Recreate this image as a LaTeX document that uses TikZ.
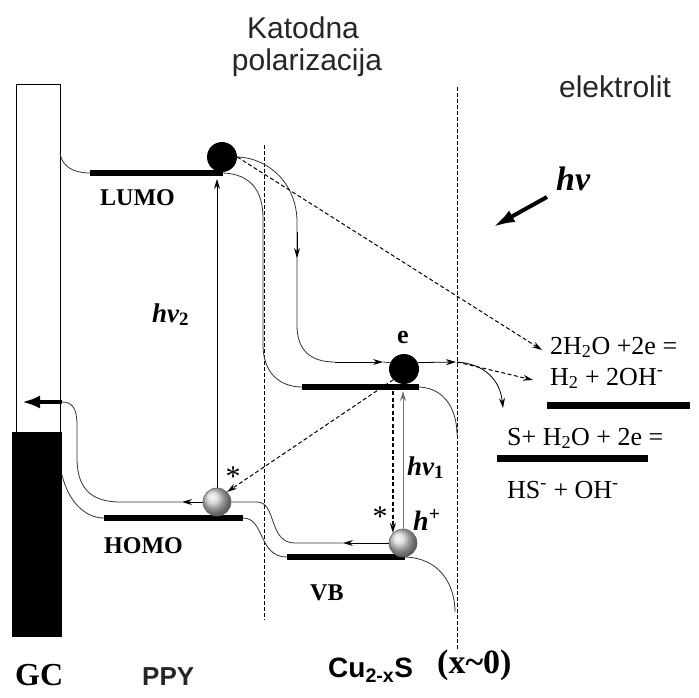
\documentclass[tikz,border=0pt]{standalone}
\usepackage{fontspec}
\setmainfont{Liberation Serif}
\setsansfont{Liberation Sans}
\usepackage{xcolor}
\definecolor{capgray}{HTML}{262626}
\definecolor{wiregray}{HTML}{333333}
\usetikzlibrary{arrows.meta,positioning,calc}

\begin{document}
\begin{tikzpicture}[
  x=1pt, y=-1pt,
  bar/.style={line width=6pt, black},
  wire/.style={line width=0.8pt, wiregray},
  sig/.style={-{Stealth[length=10pt,width=6pt]}, line width=0.8pt, black},
  dsig/.style={-{Stealth[length=10pt,width=6pt]}, line width=1pt, dash pattern=on 4pt off 2.5pt},
  bound/.style={line width=0.7pt, dash pattern=on 4pt off 2pt},
  fatarr/.style={-{Latex[length=18pt,width=13pt]}, line width=4pt},
  elec/.style={circle, fill=black, inner sep=0pt, minimum size=30pt},
  hole/.style={circle, ball color=gray!35, draw=black!60, line width=0.6pt, inner sep=0pt, minimum size=28pt},
  hdr/.style={font=\sffamily\fontsize{30}{33}\selectfont, text=capgray, inner sep=0pt, anchor=base},
  lvl/.style={font=\bfseries\fontsize{24}{26}\selectfont, inner sep=0pt, anchor=base west},
  phot/.style={font=\bfseries\itshape\fontsize{27}{29}\selectfont, inner sep=0pt, anchor=base west},
  eq/.style={font=\fontsize{26}{28}\selectfont, inner sep=0pt, anchor=base west},
  star/.style={font=\fontsize{30}{30}\selectfont, inner sep=0pt, anchor=base},
]
\fill[white] (0,0) rectangle (699,697);
\useasboundingbox (0,0) rectangle (699,697);

% ---------- headers
\node[hdr] (kat1) at (303,38) {Katodna};
\node[hdr] (kat2) at (307,70) {polarizacija};
\node[hdr] (elyt) at (615,97) {elektrolit};

% ---------- GC electrode
\draw[line width=0.8pt] (16,84) rectangle (60,432);
\fill (12,432) rectangle (62,637);

% ---------- interfaces
\draw[bound] (264,145) -- (264,620);
\draw[bound] (457,87) -- (457,650);

% ---------- levels
\coordinate (lumoL) at (90,173);  \coordinate (lumoR) at (223,173);
\coordinate (homoL) at (104,518); \coordinate (homoR) at (243,518);
\coordinate (cbL) at (302,387);   \coordinate (cbR) at (419,387);
\coordinate (vbL) at (287,557);   \coordinate (vbR) at (405,557);
\draw[bar] (lumoL) -- (lumoR);
\draw[bar] (homoL) -- (homoR);
\draw[bar] (cbL) -- (cbR);
\draw[bar] (vbL) -- (vbR);
\draw[bar, line width=7pt] (547,405) -- (690,405);
\draw[bar, line width=7pt] (497,458) -- (648,458);

\node[lvl] (lumo) at (100,205) {LUMO};
\node[lvl] (homo) at (104,553) {HOMO};
\node[lvl] (vb) at (310,600) {VB};

% ---------- carriers
\node[elec] (lb) at (222,157) {};
\node[elec] (eb) at (404,369) {};
\node[hole] (hb) at (217,502) {};
\node[hole] (hp) at (403,543) {};

% ---------- band bending
\draw[wire] (60,153) .. controls (62,167) and (74,173) .. (lumoL);
\draw[wire] (lumoR) .. controls (250,174) and (263,190) .. (263,218) -- (263,345)
  .. controls (263,373) and (280,387) .. (cbL);
\draw[wire] (cbR) .. controls (445,388) and (457,410) .. (457,435);
\draw[wire] (vbR) .. controls (440,558) and (455,585) .. (455,612);
\draw[wire] (homoR) .. controls (265,518) and (258,557) .. (vbL);
\draw[wire] (62,475) .. controls (68,500) and (84,518) .. (homoL);

% ---------- electron path
\draw[wire] (lb.east) .. controls (270,158) and (297,185) .. (297,222) -- (297,325)
  .. controls (297,350) and (310,362) .. (335,362);
\draw[sig] (297,232) -- (297,258);
\draw[sig] (335,362) -- (383,362);
\draw[wire] (383,362) -- (eb.155);
\draw[sig] (eb.25) -- (456,362);
\coordinate (ifc) at (457,362);
\draw[sig] (ifc) .. controls (485,364) and (500,380) .. (503,408);
\coordinate (rx1) at (533,380);
\coordinate (rx2) at (542,350);
\draw[dsig] (ifc) -- (rx1);
\draw[dsig] (lb.east) -- (rx2);

% ---------- hole path
\draw[sig] (hp.west) -- (343,543);
\draw[wire] (343,543) -- (295,543) .. controls (268,543) and (277,502) .. (257,502) -- (hb.east);
\draw[sig] (hb.west) -- (182,502);
\draw[wire] (182,502) -- (120,502) .. controls (88,502) and (77,485) .. (77,458) -- (77,425)
  .. controls (77,408) and (72,402) .. (62,402);
\draw[fatarr] (62,402) -- (22,402);

% ---------- excitations
\draw[sig] (hb.north) -- (217,179);
\draw[sig, black!55] (hp.north) -- (hp.north |- 0,391);
\draw[dsig, line width=1.6pt] (hp.north west |- 0,391) -- (hp.north west);
\draw[dsig] (eb.south west) -- (hb.north east);

\node[phot] (hv2) at (152,322) {hv\textsubscript{\upshape 2}};
\node[phot] (hv1) at (407,475) {hv\textsubscript{\upshape 1}};
\node[font=\bfseries\fontsize{26}{28}\selectfont, inner sep=0pt, anchor=base] (elab) at (403,343) {e};
\node[phot, font=\bfseries\itshape\fontsize{28}{30}\selectfont] (hlab) at (413,530) {h\textsuperscript{\upshape +}};
\node[star] (st1) at (233,486) {*};
\node[star] (st2) at (380,526) {*};

% ---------- light
\node[phot, font=\bfseries\itshape\fontsize{34}{36}\selectfont] (hv) at (556,190) {hv};
\draw[-{Latex[length=22pt,width=13pt]}, line width=4pt] (547,197) -- (493,227);

% ---------- redox levels
\node[eq, text depth=0pt] (r1a) at (550,354) {2H\textsubscript{2}O +2e =};
\node[eq, text height=17pt] (r1b) at (550,385) {H\textsubscript{2} + 2OH\textsuperscript{-}};
\node[eq, text depth=0pt] (r2a) at (507,445) {S+ H\textsubscript{2}O + 2e =};
\node[eq] (r2b) at (507,498) {HS\textsuperscript{-} + OH\textsuperscript{-}};

% ---------- phases
\node[lvl, font=\bfseries\fontsize{32}{34}\selectfont] (gc) at (15,685) {GC};
\node[lvl, font=\sffamily\bfseries\fontsize{26}{28}\selectfont, text=capgray] (ppy) at (142,685) {PPY};
\node[lvl, font=\sffamily\bfseries\fontsize{28}{30}\selectfont] (cus) at (328,677) {Cu\textsubscript{2-x}S};
\node[lvl, font=\bfseries\fontsize{34}{36}\selectfont] (xo) at (437,673) {(x\textasciitilde 0)};
\end{tikzpicture}
\end{document}
